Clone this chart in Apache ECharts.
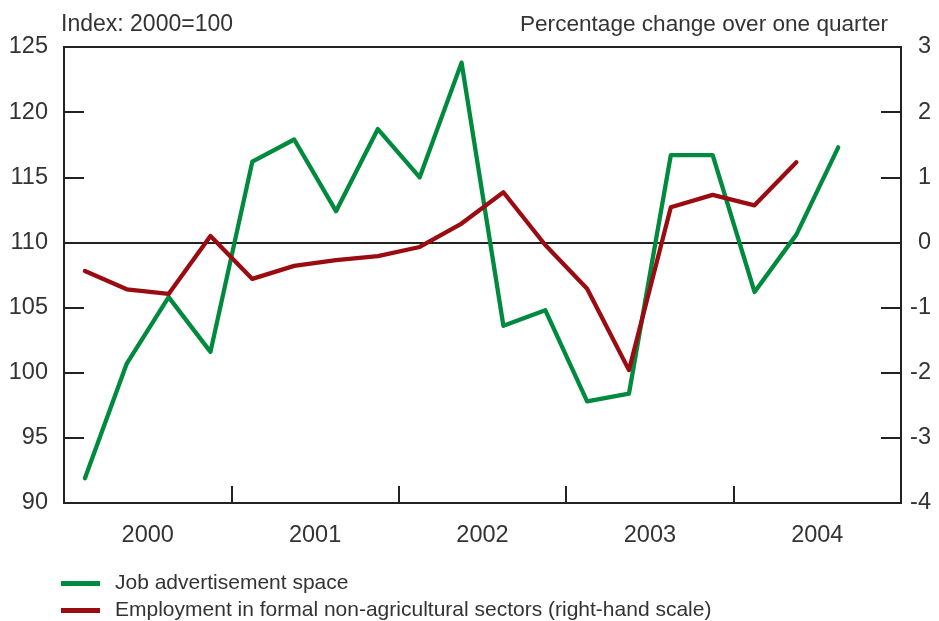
<!DOCTYPE html>
<html>
<head>
<meta charset="utf-8">
<script src="https://cdn.jsdelivr.net/npm/echarts@6/dist/echarts.min.js"></script>
<style>html,body{margin:0;padding:0;background:#fff}#c{width:939px;height:621px}</style>
</head>
<body>
<div id="c"></div>
<script>
const quarters = ['2000Q1','2000Q2','2000Q3','2000Q4','2001Q1','2001Q2','2001Q3','2001Q4','2002Q1','2002Q2','2002Q3','2002Q4','2003Q1','2003Q2','2003Q3','2003Q4','2004Q1','2004Q2','2004Q3','2004Q4'];
const years = ['2000','2001','2002','2003','2004'];
const jobAds = [91.9,100.7,105.8,101.6,116.2,117.9,112.4,118.7,115.0,123.8,103.6,104.8,97.8,98.4,116.7,116.7,106.2,110.6,117.3];
const employment = [-0.44,-0.72,-0.79,0.10,-0.56,-0.36,-0.27,-0.21,-0.07,0.29,0.77,-0.04,-0.71,-1.96,0.54,0.73,0.57,1.23];
const leftTicks = {min:90,max:125,interval:5};
const rightTicks = {min:-4,max:3,interval:1};
const seriesNames = ['Job advertisement space','Employment in formal non-agricultural sectors (right-hand scale)'];
const titles = ['Index: 2000=100','Percentage change over one quarter'];

const FONT = 'Liberation Sans, Arial, sans-serif';
const TXT = '#333';
const AX = '#222';
const GREEN = '#008a3e';
const RED = '#9a0c12';

const chart = echarts.init(document.getElementById('c'), null, {renderer:'canvas'});
chart.setOption({
  animation:false,
  textStyle:{fontFamily:FONT},
  title:[
    {text:titles[0], left:56, top:8, textStyle:{fontSize:23, fontWeight:'normal', color:TXT, fontFamily:FONT}},
    {text:titles[1], right:46, top:8, textStyle:{fontSize:22.6, fontWeight:'normal', color:TXT, fontFamily:FONT}}
  ],
  legend:[
    {data:[seriesNames[0]], left:61, top:573, padding:0, orient:'vertical', icon:'rect', itemWidth:39, itemHeight:5, itemGap:0,
     textStyle:{fontSize:21, color:TXT, fontFamily:FONT, padding:[0,0,0,10]}, selectedMode:false},
    {data:[seriesNames[1]], left:61, top:600, padding:0, orient:'vertical', icon:'rect', itemWidth:39, itemHeight:5, itemGap:0,
     textStyle:{fontSize:21, color:TXT, fontFamily:FONT, padding:[0,0,0,10]}, selectedMode:false}
  ],
  grid:{left:64, right:38, top:47, bottom:118, show:true, borderColor:AX, borderWidth:2, backgroundColor:'transparent'},
  xAxis:[
    {type:'category', data:quarters, boundaryGap:true, show:false},
    {type:'category', data:years, boundaryGap:true, position:'bottom',
     axisLine:{show:true, lineStyle:{color:AX, width:2}},
     axisTick:{show:true, inside:true, length:17, lineStyle:{color:AX, width:2}},
     axisLabel:{fontSize:23.5, color:TXT, margin:21, fontFamily:FONT},
     splitLine:{show:false}}
  ],
  yAxis:[
    {type:'value', position:'left', min:leftTicks.min, max:leftTicks.max, interval:leftTicks.interval,
     axisLine:{show:true, lineStyle:{color:AX, width:2}},
     axisTick:{show:true, inside:true, length:20, lineStyle:{color:AX, width:2}},
     axisLabel:{fontSize:23.5, color:TXT, margin:16, fontFamily:FONT},
     splitLine:{show:false}},
    {type:'value', position:'right', min:rightTicks.min, max:rightTicks.max, interval:rightTicks.interval,
     axisLine:{show:true, lineStyle:{color:AX, width:2}},
     axisTick:{show:true, inside:true, length:20, lineStyle:{color:AX, width:2}},
     axisLabel:{fontSize:23.5, color:TXT, margin:30, align:'right', fontFamily:FONT},
     splitLine:{show:false}}
  ],
  series:[
    {name:seriesNames[0], type:'line', xAxisIndex:0, yAxisIndex:0, data:jobAds, showSymbol:false, symbol:'none',
     lineStyle:{color:GREEN, width:4.3, join:'round', cap:'round'}, itemStyle:{color:GREEN}, z:3},
    {name:seriesNames[1], type:'line', xAxisIndex:0, yAxisIndex:1, data:employment, showSymbol:false, symbol:'none',
     lineStyle:{color:RED, width:4.3, join:'round', cap:'round'}, itemStyle:{color:RED}, z:4,
     markLine:{silent:true, symbol:'none', label:{show:false}, lineStyle:{color:AX, width:2, type:'solid'},
       data:[{yAxis:0}], z:1}}
  ]
});
</script>
</body>
</html>
